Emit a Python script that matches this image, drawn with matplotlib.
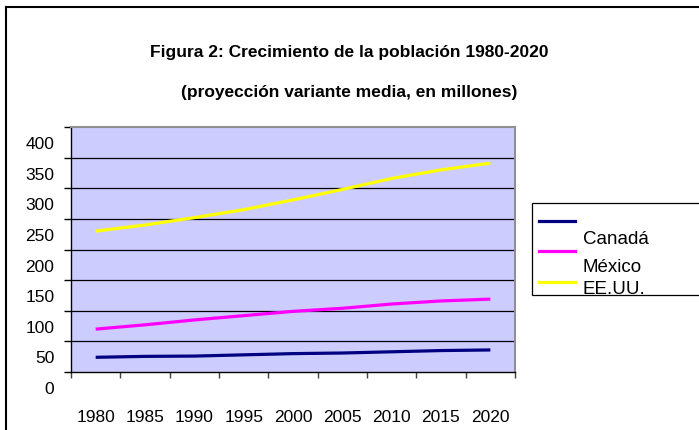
import matplotlib
matplotlib.use("Agg")
import matplotlib.pyplot as plt
from matplotlib.lines import Line2D
from matplotlib.patches import Rectangle
from matplotlib.transforms import ScaledTranslation

plt.rcParams['font.family'] = ['Liberation Sans', 'DejaVu Sans']

years = ['1980', '1985', '1990', '1995', '2000', '2005', '2010', '2015', '2020']
canada = [24, 25.5, 26, 28, 30, 31, 33, 35, 36]
mexico = [70, 77, 85, 92, 99, 104, 111, 116, 119]
eeuu = [230, 240, 252, 265, 281, 298, 316, 330, 341]
names = ['Canadá', 'México', 'EE.UU.']
colors = ['#000080', '#FF00FF', '#FFFF00']
yticks = [0, 50, 100, 150, 200, 250, 300, 350, 400]

fig = plt.figure(figsize=(6.99, 4.30), dpi=100)
ax = fig.add_axes([71 / 699, 58 / 430, 444 / 699, 245 / 430])
ax.set_facecolor('#CCCCFF')

x = list(range(len(years)))
for series, c in zip([canada, mexico, eeuu], colors):
    ax.plot(x, series, color=c, lw=2.3, solid_capstyle='butt', zorder=3)

ax.set_xlim(-0.5, len(years) - 0.5)
ax.set_ylim(0, 400)
ax.set_yticks(yticks)
ax.set_yticklabels([str(v) for v in yticks], fontsize=12.5)
for v in yticks[1:-1]:
    ax.axhline(v, color='black', lw=0.9, zorder=1)

ax.set_xticks(x)
ax.set_xticklabels(years, fontsize=12.5)
ax.set_xticks([i - 0.5 for i in range(len(years) + 1)], minor=True)
ax.tick_params(axis='x', which='major', length=0, pad=27)
ax.tick_params(axis='x', which='minor', length=4.5, width=1, color='#404040')
ax.tick_params(axis='y', length=5, width=1, pad=7)

# y labels sit a bit below their gridlines in the original
shift = ScaledTranslation(0, -0.16, fig.dpi_scale_trans)
for lbl in ax.get_yticklabels():
    lbl.set_transform(lbl.get_transform() + shift)

for s in ['left', 'bottom']:
    ax.spines[s].set_color('black')
    ax.spines[s].set_linewidth(1)
for s in ['top', 'right']:
    ax.spines[s].set_color('#909090')
    ax.spines[s].set_linewidth(1.5)

fig.text(0.5, 1 - 52 / 430, 'Figura 2: Crecimiento de la población 1980-2020',
         ha='center', va='center', fontsize=12.5, fontweight='bold')
fig.text(0.5, 1 - 93 / 430, '(proyección variante media, en millones)',
         ha='center', va='center', fontsize=12.5, fontweight='bold')

# outer frame (only left and top are visible)
fig.add_artist(Line2D([6 / 699, 6 / 699], [0, 1 - 7 / 430], color='black', lw=1.5))
fig.add_artist(Line2D([6 / 699, 1], [1 - 7 / 430, 1 - 7 / 430], color='black', lw=1.5))

# legend box
fig.add_artist(Rectangle((532 / 699, 1 - 295 / 430), 200 / 699, 92 / 430,
                         transform=fig.transFigure, facecolor='white',
                         edgecolor='black', lw=0.9))
line_y = [221, 251, 282]
text_y = [239, 267, 289]
for name, c, ly, ty in zip(names, colors, line_y, text_y):
    fig.add_artist(Line2D([539 / 699, 575 / 699], [1 - ly / 430, 1 - ly / 430],
                          color=c, lw=2.3))
    fig.text(583 / 699, 1 - ty / 430, name, ha='left', va='center', fontsize=13.5)

fig.savefig('out.png', dpi=100)
